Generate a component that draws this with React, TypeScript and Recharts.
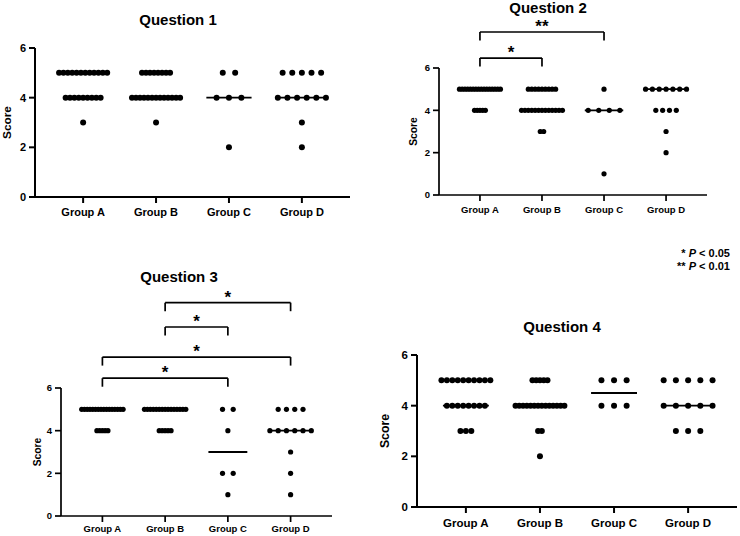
import React from 'react';
import { ScatterChart, Scatter, XAxis, YAxis, ReferenceLine, ReferenceDot, Label } from 'recharts';

const FONT = '"Liberation Sans", Arial, Helvetica, sans-serif';

const groups = ['Group A', 'Group B', 'Group C', 'Group D'];
const scoreTicks = [0, 2, 4, 6];
const groupTicks = [1, 2, 3, 4];

// number of answers per score (index 0..5), one row per group
const q1Counts = [
    [0, 0, 0, 1, 9, 12],
    [0, 0, 0, 1, 13, 8],
    [0, 0, 1, 0, 3, 2],
    [0, 0, 1, 1, 6, 5],
];
const q2Counts = [
    [0, 0, 0, 0, 5, 16],
    [0, 0, 0, 2, 13, 9],
    [0, 1, 0, 0, 4, 1],
    [0, 0, 1, 1, 4, 7],
];
const q3Counts = [
    [0, 0, 0, 0, 5, 16],
    [0, 0, 0, 0, 5, 15],
    [0, 1, 2, 0, 1, 2],
    [0, 1, 1, 1, 6, 4],
];
const q4Counts = [
    [0, 0, 0, 3, 8, 10],
    [0, 0, 1, 2, 14, 5],
    [0, 0, 0, 0, 3, 3],
    [0, 0, 0, 3, 5, 5],
];

// significant comparisons: [from group, to group, mark]
type Pair = [number, number, string];
const q2Pairs: Pair[] = [[1, 2, '*'], [1, 3, '**']];
const q3Pairs: Pair[] = [[1, 3, '*'], [1, 4, '*'], [2, 3, '*'], [2, 4, '*']];

// spread the dots of each row sideways, like a column scatter
const spread = (counts: number[][]) =>
    counts.flatMap((row, gi) => {
        const widest = Math.max(...row);
        const gap = widest > 1 ? Math.min(0.17, 0.66 / (widest - 1)) : 0;
        return row.flatMap((n, score) =>
            Array.from({ length: n }, (_, i) => ({ x: gi + 1 + (i - (n - 1) / 2) * gap, y: score }))
        );
    });

const median = (row: number[]) => {
    const all: number[] = row.flatMap((n, s) => Array(n).fill(s));
    const k = all.length;
    return k % 2 ? all[(k - 1) / 2] : (all[k / 2 - 1] + all[k / 2]) / 2;
};

interface PanelProps {
    title: string;
    counts: number[][];
    pairs?: Pair[];
    bracketYs?: number[];
    left: number;
    top: number;
    width: number;
    height: number;
    axisX: number;
    plotTop: number;
    plotBottom: number;
    plotRight: number;
    xAxisHeight: number;
    titleAt: [number, number];
    scoreX: number;
    font: number;
    dotR: number;
    tickGap: number;
    lineW: number;
}

const Panel: React.FC<PanelProps> = (p) => {
    const points = spread(p.counts);
    const pairs = p.pairs || [];
    const ys = p.bracketYs || [];
    const drop = 0.4;

    return (
        <div style={{ position: 'absolute', left: p.left, top: p.top, width: p.width, height: p.height }}>
            <div
                style={{
                    position: 'absolute',
                    left: p.titleAt[0] - 100,
                    top: p.titleAt[1] - 10,
                    width: 200,
                    lineHeight: '20px',
                    textAlign: 'center',
                    fontFamily: FONT,
                    fontWeight: 'bold',
                    fontSize: 15,
                    color: '#000',
                }}
            >
                {p.title}
            </div>
            <ScatterChart
                width={p.width}
                height={p.height}
                margin={{
                    top: p.plotTop,
                    right: p.width - p.plotRight,
                    bottom: p.height - p.plotBottom - p.xAxisHeight,
                    left: 0,
                }}
            >
                <XAxis
                    type="number"
                    dataKey="x"
                    domain={[0.34, 4.66]}
                    ticks={groupTicks}
                    interval={0}
                    allowDataOverflow
                    height={p.xAxisHeight}
                    tickFormatter={(v: number) => groups[v - 1]}
                    tickSize={6}
                    tickMargin={p.tickGap}
                    axisLine={{ stroke: '#000', strokeWidth: p.lineW }}
                    tickLine={{ stroke: '#000', strokeWidth: p.lineW }}
                    tick={{ fontSize: p.font, fontWeight: 'bold', fill: '#000', fontFamily: FONT }}
                />
                <YAxis
                    type="number"
                    dataKey="y"
                    domain={[0, 6]}
                    ticks={scoreTicks}
                    interval={0}
                    allowDataOverflow
                    width={p.axisX}
                    tickSize={6}
                    tickMargin={3}
                    axisLine={{ stroke: '#000', strokeWidth: p.lineW }}
                    tickLine={{ stroke: '#000', strokeWidth: p.lineW }}
                    tick={{ fontSize: p.font, fontWeight: 'bold', fill: '#000', fontFamily: FONT }}
                >
                    <Label
                        value="Score"
                        angle={-90}
                        position="insideLeft"
                        offset={p.scoreX}
                        style={{ textAnchor: 'middle', fontSize: p.font + 0.8, fontWeight: 'bold', fill: '#000', fontFamily: FONT }}
                    />
                </YAxis>
                {p.counts.map((row, gi) => (
                    <ReferenceLine
                        key={`med-${gi}`}
                        segment={[{ x: gi + 1 - 0.31, y: median(row) }, { x: gi + 1 + 0.31, y: median(row) }]}
                        stroke="#000"
                        strokeWidth={1.8}
                        ifOverflow="visible"
                    />
                ))}
                {pairs.map(([a, b], i) => [
                    <ReferenceLine
                        key={`bh-${i}`}
                        segment={[{ x: a, y: ys[i] }, { x: b, y: ys[i] }]}
                        stroke="#000"
                        strokeWidth={p.lineW}
                        ifOverflow="visible"
                    />,
                    <ReferenceLine
                        key={`bl-${i}`}
                        segment={[{ x: a, y: ys[i] }, { x: a, y: ys[i] - drop }]}
                        stroke="#000"
                        strokeWidth={p.lineW}
                        ifOverflow="visible"
                    />,
                    <ReferenceLine
                        key={`br-${i}`}
                        segment={[{ x: b, y: ys[i] }, { x: b, y: ys[i] - drop }]}
                        stroke="#000"
                        strokeWidth={p.lineW}
                        ifOverflow="visible"
                    />,
                ])}
                {pairs.map(([a, b, mark], i) => (
                    <ReferenceDot
                        key={`star-${i}`}
                        x={(a + b) / 2}
                        y={ys[i] + 0.42}
                        r={0}
                        ifOverflow="visible"
                        shape={(sp: any) => (
                            <text
                                x={sp.cx}
                                y={sp.cy + 9}
                                textAnchor="middle"
                                fontSize={17}
                                fontWeight="bold"
                                fontFamily={FONT}
                                fill="#000"
                            >
                                {mark}
                            </text>
                        )}
                    />
                ))}
                <Scatter
                    data={points}
                    isAnimationActive={false}
                    shape={(sp: any) => <circle cx={sp.cx} cy={sp.cy} r={p.dotR} fill="#000" />}
                />
            </ScatterChart>
        </div>
    );
};

const App: React.FC = () => {
    return (
        <div style={{ position: 'absolute', left: 0, top: 0, width: 740, height: 536, background: '#fff', overflow: 'hidden' }}>
            <Panel
                title="Question 1"
                counts={q1Counts}
                left={0} top={0} width={370} height={230}
                axisX={35} plotTop={48} plotBottom={197} plotRight={350} xAxisHeight={30}
                titleAt={[178, 20]} scoreX={7} font={11} dotR={3} tickGap={5} lineW={2}
            />
            <Panel
                title="Question 2"
                counts={q2Counts}
                pairs={q2Pairs}
                bracketYs={[6.47, 7.7]}
                left={370} top={0} width={370} height={230}
                axisX={69} plotTop={68} plotBottom={195} plotRight={337} xAxisHeight={30}
                titleAt={[178, 8]} scoreX={43} font={9.5} dotR={2.6} tickGap={5.5} lineW={1.7}
            />
            <Panel
                title="Question 3"
                counts={q3Counts}
                pairs={q3Pairs}
                bracketYs={[6.46, 7.45, 8.86, 10.0]}
                left={0} top={260} width={370} height={276}
                axisX={61} plotTop={128} plotBottom={256} plotRight={332} xAxisHeight={20}
                titleAt={[179, 17]} scoreX={37} font={9.5} dotR={2.6} tickGap={3} lineW={1.7}
            />
            <Panel
                title="Question 4"
                counts={q4Counts}
                left={370} top={260} width={370} height={276}
                axisX={47} plotTop={95} plotBottom={247} plotRight={367} xAxisHeight={25}
                titleAt={[192, 67]} scoreX={15} font={11.5} dotR={3} tickGap={6} lineW={2}
            />
            <div
                style={{
                    position: 'absolute',
                    left: 580,
                    top: 247,
                    width: 150,
                    textAlign: 'right',
                    fontFamily: FONT,
                    fontWeight: 'bold',
                    fontSize: 11,
                    lineHeight: '13px',
                    color: '#000',
                }}
            >
                <div>* <i>P</i> &lt; 0.05</div>
                <div>** <i>P</i> &lt; 0.01</div>
            </div>
        </div>
    );
};

export default App;
